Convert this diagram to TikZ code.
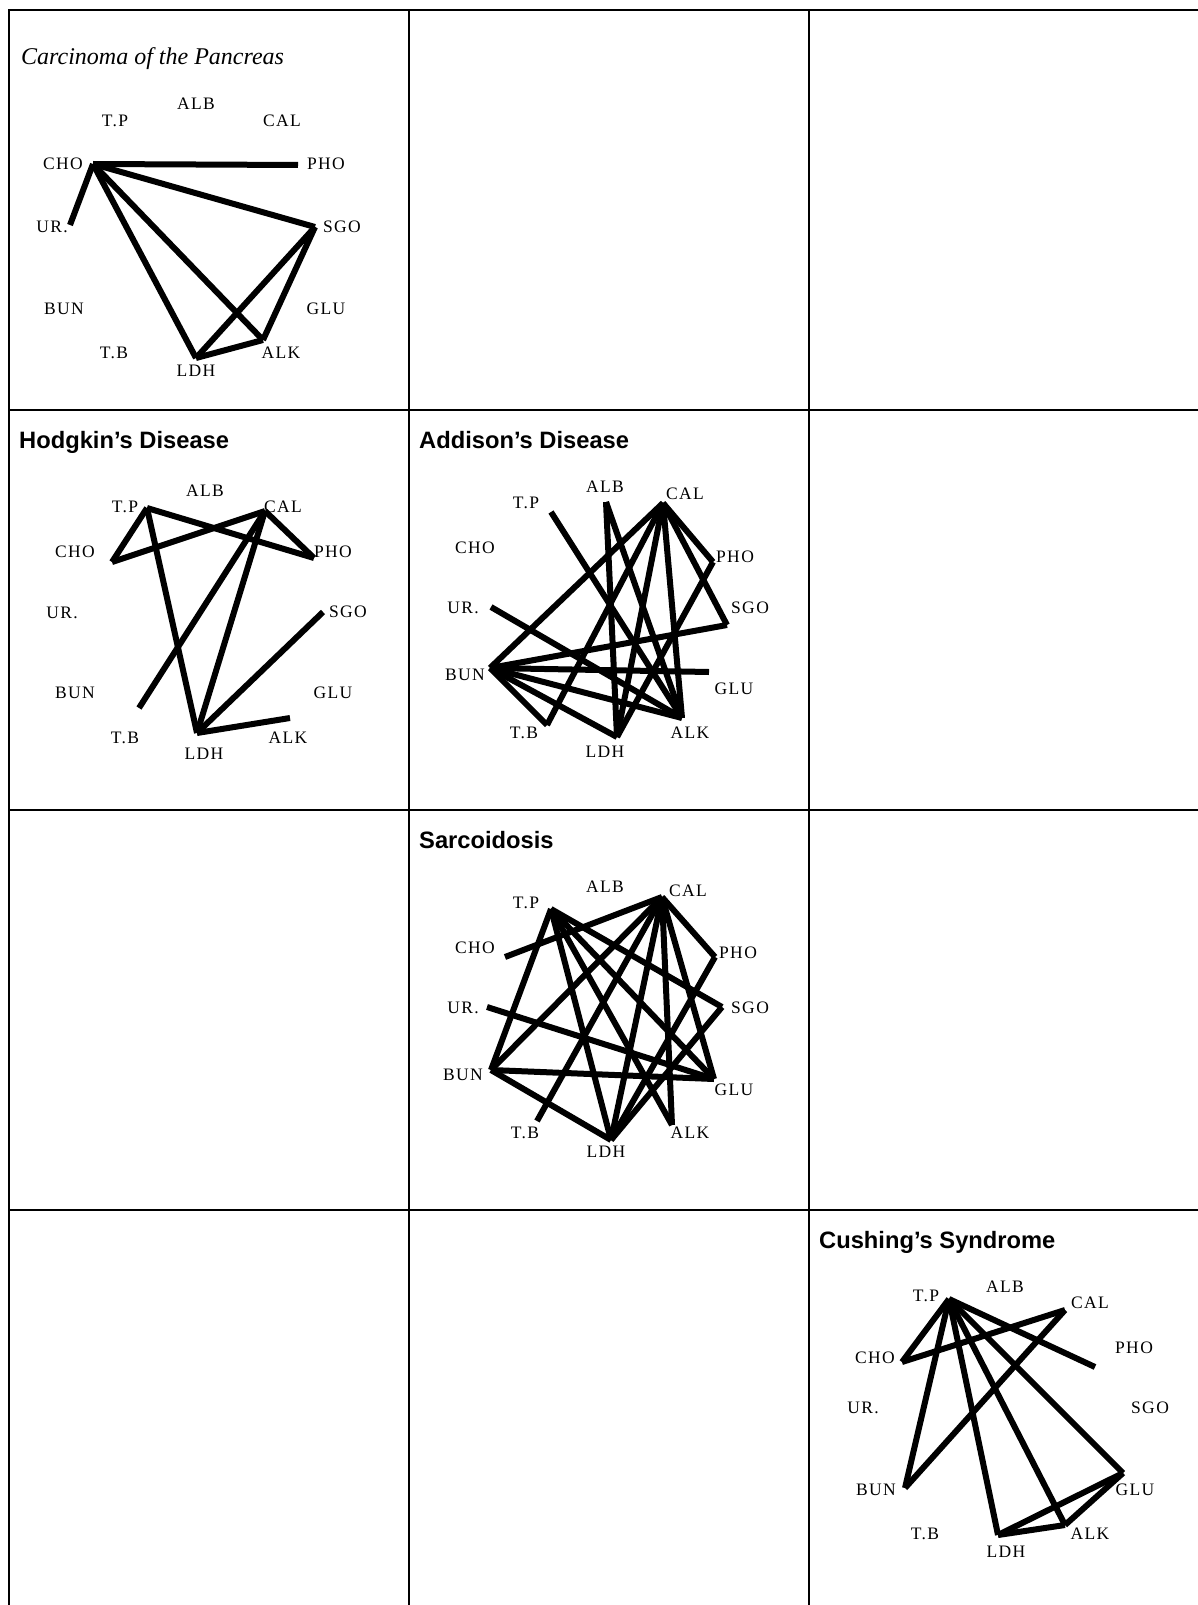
\documentclass[tikz,border=0pt]{standalone}
\usepackage{fontspec}
\setmainfont{Liberation Serif}
\newfontfamily\lblfont[LetterSpace=8]{Liberation Serif}
\newfontfamily\ttlsans{Liberation Sans}
\begin{document}
\begin{tikzpicture}[x=1pt,y=-1pt,
  lbl/.style={font=\lblfont\fontsize{17.5}{17.5}\selectfont, inner sep=0pt, anchor=center},
  edge/.style={line width=6pt},
  gridline/.style={line width=2pt},
  ttl/.style={font=\ttlsans\bfseries\fontsize{23.7}{24}\selectfont, anchor=base west, inner sep=0pt},
  ttlit/.style={font=\itshape\fontsize{24}{24}\selectfont, anchor=base west, inner sep=0pt}]
\useasboundingbox (0,0) rectangle (1198,1605);
% grid
\draw[gridline] (9,1605) -- (9,10) -- (1198,10);
\foreach \yy in {410,810,1210} \draw[gridline] (9,\yy) -- (1198,\yy);
\foreach \xx in {409,809} \draw[gridline] (\xx,10) -- (\xx,1605);

% ---------- Panel: Carcinoma of the Pancreas ----------
\node[ttlit] (t1) at (21,65) {Carcinoma of the Pancreas};
\foreach \n/\t/\x/\y in {ALB/ALB/196/104, TP/T.P/115/121, CAL/CAL/282/121, CHO/CHO/63/164, PHO/PHO/326/164, UR/UR./52/227, SGO/SGO/342/227, BUN/BUN/64/309, GLU/GLU/326/309, TB/T.B/114/353, ALK/ALK/281/353, LDH/LDH/196/371}
  \node[lbl] (a\n) at (\x,\y) {\t};
\coordinate (aCHOp) at (93,164);
\coordinate (aPHOp) at (298,165);
\coordinate (aURp) at (70,225);
\coordinate (aSGOp) at (315,227);
\coordinate (aLDHp) at (196,358);
\coordinate (aALKp) at (263,340);
\foreach \u/\v in {CHO/PHO, CHO/UR, CHO/SGO, CHO/LDH, CHO/ALK, SGO/LDH, SGO/ALK, LDH/ALK}
  \draw[edge] (a\u p) -- (a\v p);

% ---------- Panel: Hodgkin's Disease ----------
\node[ttl] (t2) at (19,448) {Hodgkin’s Disease};
\foreach \n/\t/\x/\y in {ALB/ALB/205/491, TP/T.P/125/507, CAL/CAL/283/507, CHO/CHO/75/552, PHO/PHO/333/552, UR/UR./62/613, SGO/SGO/348/612, BUN/BUN/75/693, GLU/GLU/333/693, TB/T.B/125/738, ALK/ALK/288/738, LDH/LDH/204/754}
  \node[lbl] (b\n) at (\x,\y) {\t};
\coordinate (bTPp) at (147,508);
\coordinate (bCALp) at (265,511);
\coordinate (bCHOp) at (112,562);
\coordinate (bPHOp) at (314,558);
\coordinate (bSGOp) at (323,612);
\coordinate (bTBp) at (139,708);
\coordinate (bLDHp) at (197,733);
\coordinate (bALKp) at (290,718);
\foreach \u/\v in {TP/CHO, TP/PHO, TP/LDH, CHO/CAL, CAL/PHO, CAL/TB, CAL/LDH, SGO/LDH, LDH/ALK}
  \draw[edge] (b\u p) -- (b\v p);

% ---------- Panel: Addison's Disease ----------
\node[ttl] (t3) at (419,448) {Addison’s Disease};
\foreach \n/\t/\x/\y in {ALB/ALB/605/487, TP/T.P/526/503, CAL/CAL/685/494, CHO/CHO/475/548, PHO/PHO/735/557, UR/UR./463/608, SGO/SGO/750/608, BUN/BUN/465/675, GLU/GLU/734/689, TB/T.B/524/733, ALK/ALK/690/733, LDH/LDH/605/752}
  \node[lbl] (c\n) at (\x,\y) {\t};
\coordinate (cTPp) at (551,512);
\coordinate (cALBp) at (606,502);
\coordinate (cCALp) at (663,503);
\coordinate (cPHOp) at (713,562);
\coordinate (cSGOp) at (727,625);
\coordinate (cURp) at (491,607);
\coordinate (cBUNp) at (490,668);
\coordinate (cGLUp) at (709,672);
\coordinate (cTBp) at (547,725);
\coordinate (cLDHp) at (617,737);
\coordinate (cALKp) at (682,718);
\foreach \u/\v in {TP/ALK, ALB/LDH, ALB/ALK, CAL/BUN, CAL/TB, CAL/LDH, CAL/ALK, CAL/PHO, CAL/SGO, PHO/LDH, SGO/BUN, UR/ALK, BUN/GLU, BUN/ALK, BUN/LDH, BUN/TB}
  \draw[edge] (c\u p) -- (c\v p);

% ---------- Panel: Sarcoidosis ----------
\node[ttl] (t4) at (419,848) {Sarcoidosis};
\foreach \n/\t/\x/\y in {ALB/ALB/605/887, TP/T.P/526/903, CAL/CAL/688/891, CHO/CHO/475/948, PHO/PHO/738/953, UR/UR./463/1008, SGO/SGO/750/1008, BUN/BUN/463/1075, GLU/GLU/734/1090, TB/T.B/525/1133, ALK/ALK/690/1133, LDH/LDH/606/1152}
  \node[lbl] (d\n) at (\x,\y) {\t};
\coordinate (dTPp) at (551,909);
\coordinate (dCALp) at (662,897);
\coordinate (dCHOp) at (505,957);
\coordinate (dPHOp) at (715,957);
\coordinate (dURp) at (487,1007);
\coordinate (dSGOp) at (722,1007);
\coordinate (dBUNp) at (491,1070);
\coordinate (dGLUp) at (714,1079);
\coordinate (dTBp) at (537,1121);
\coordinate (dALKp) at (672,1125);
\coordinate (dLDHp) at (611,1140);
\foreach \u/\v in {CHO/CAL, TP/BUN, TP/LDH, TP/ALK, TP/GLU, TP/SGO, CAL/BUN, CAL/TB, CAL/LDH, CAL/ALK, CAL/GLU, CAL/PHO, PHO/LDH, SGO/LDH, UR/GLU, BUN/GLU, BUN/LDH}
  \draw[edge] (d\u p) -- (d\v p);

% ---------- Panel: Cushing's Syndrome ----------
\node[ttl] (t5) at (819,1248) {Cushing’s Syndrome};
\foreach \n/\t/\x/\y in {ALB/ALB/1005/1287, TP/T.P/926/1296, CAL/CAL/1090/1303, CHO/CHO/875/1358, PHO/PHO/1134/1348, UR/UR./863/1408, SGO/SGO/1150/1408, BUN/BUN/876/1490, GLU/GLU/1135/1490, TB/T.B/925/1534, ALK/ALK/1090/1534, LDH/LDH/1006/1552}
  \node[lbl] (e\n) at (\x,\y) {\t};
\coordinate (eTPp) at (949,1299);
\coordinate (eCALp) at (1065,1310);
\coordinate (eCHOp) at (902,1362);
\coordinate (ePHOp) at (1095,1367);
\coordinate (eBUNp) at (905,1488);
\coordinate (eGLUp) at (1123,1473);
\coordinate (eLDHp) at (998,1535);
\coordinate (eALKp) at (1065,1525);
\foreach \u/\v in {TP/CHO, TP/BUN, TP/LDH, TP/ALK, TP/GLU, TP/PHO, CHO/CAL, CAL/BUN, GLU/LDH, GLU/ALK, LDH/ALK}
  \draw[edge] (e\u p) -- (e\v p);
\end{tikzpicture}
\end{document}
